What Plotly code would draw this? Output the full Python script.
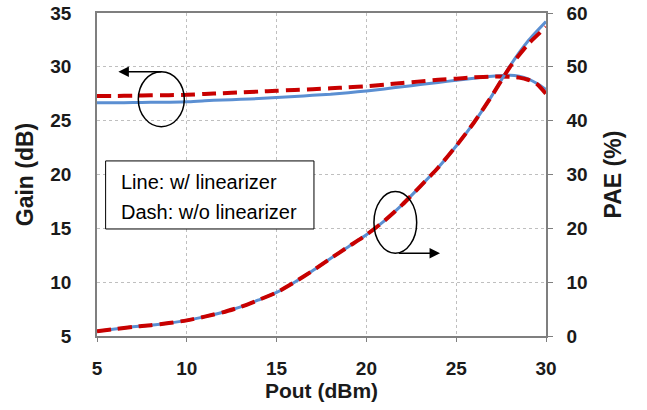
import plotly.graph_objects as go

# ---------------- data ----------------
pout_gain = [5, 6, 7, 8, 9, 10, 11, 12, 13, 14, 15, 16, 17, 18, 19, 20, 21, 22, 23, 24, 25, 26, 27, 28, 28.5, 29, 29.5, 30]
gain_lin = [26.67, 26.67, 26.68, 26.70, 26.72, 26.75, 26.85, 26.92, 26.98, 27.05, 27.15, 27.25, 27.35, 27.45,
            27.60, 27.76, 27.95, 28.15, 28.35, 28.55, 28.75, 28.95, 29.12, 29.22, 29.12, 28.88, 28.45, 27.90]
gain_nolin = [27.30, 27.30, 27.32, 27.35, 27.37, 27.40, 27.48, 27.55, 27.62, 27.70, 27.78, 27.85, 27.92, 28.00,
              28.10, 28.20, 28.35, 28.50, 28.65, 28.80, 28.90, 29.02, 29.10, 29.08, 29.00, 28.80, 28.40, 27.50]

pout_pae = [5, 6, 7, 8, 9, 10, 11, 12, 13, 14, 15, 16, 17, 18, 19, 20, 21, 22, 23, 24, 25, 26, 27, 28, 29, 30]
pae_lin = [0.9, 1.3, 1.7, 2.0, 2.4, 2.9, 3.6, 4.4, 5.4, 6.7, 8.1, 10.0, 12.1, 14.4, 16.6, 18.8, 21.4, 24.4,
           27.8, 31.3, 35.3, 39.7, 44.7, 50.2, 54.8, 58.4]
pae_nolin = [0.9, 1.3, 1.7, 2.0, 2.4, 2.9, 3.6, 4.4, 5.4, 6.7, 8.1, 10.0, 12.1, 14.4, 16.6, 18.8, 21.4, 24.4,
             27.8, 31.3, 35.3, 39.7, 44.7, 50.0, 54.2, 57.4]

x_ticks = [5, 10, 15, 20, 25, 30]
gain_ticks = [5, 10, 15, 20, 25, 30, 35]
pae_ticks = [0, 10, 20, 30, 40, 50, 60]

legend_lines = ["Line: w/ linearizer", "Dash: w/o linearizer"]

BLUE = "#5B8FD2"
RED = "#C80000"
FONT = "Liberation Sans, Arial, sans-serif"

fig = go.Figure()

fig.add_trace(go.Scatter(x=pout_gain, y=gain_lin, mode="lines", yaxis="y",
                         line=dict(color=BLUE, width=3, shape="spline", smoothing=0.6), showlegend=False))
fig.add_trace(go.Scatter(x=pout_pae, y=pae_lin, mode="lines", yaxis="y2",
                         line=dict(color=BLUE, width=3, shape="spline", smoothing=0.6), showlegend=False))
fig.add_trace(go.Scatter(x=pout_gain, y=gain_nolin, mode="lines", yaxis="y",
                         line=dict(color=RED, width=4, dash="14px,7px", shape="spline", smoothing=0.6),
                         showlegend=False))
fig.add_trace(go.Scatter(x=pout_pae, y=pae_nolin, mode="lines", yaxis="y2",
                         line=dict(color=RED, width=4, dash="14px,7px", shape="spline", smoothing=0.6),
                         showlegend=False))

TICKFONT = dict(family=FONT, size=19, color="#1a1a1a", weight="bold")
axis_common = dict(showgrid=True, gridcolor="#BFBFBF", griddash="dot", gridwidth=1,
                   zeroline=False, showline=True, linecolor="#7F7F7F", linewidth=1.5,
                   tickfont=TICKFONT, automargin=False, ticklabeloverflow="allow")

fig.update_layout(
    width=647, height=410,
    margin=dict(l=97, r=101, t=13, b=74, autoexpand=False),
    paper_bgcolor="white", plot_bgcolor="white",
    font=dict(family=FONT, color="#1a1a1a"),
    xaxis=dict(range=[5, 30], tickvals=x_ticks, ticks="outside", ticklen=4, tickcolor="#7F7F7F",
               ticklabelstandoff=10, mirror=True,
               title=dict(text="Pout (dBm)", font=dict(family=FONT, size=21, weight="bold"), standoff=4),
               **axis_common),
    yaxis=dict(range=[5, 35], tickvals=gain_ticks, ticks="", ticklabelstandoff=20,
               title=dict(text="Gain (dB)", font=dict(family=FONT, size=23, weight="bold"), standoff=10),
               **axis_common),
    yaxis2=dict(range=[0, 60], tickvals=pae_ticks, overlaying="y", side="right",
                ticks="outside", ticklen=5, tickcolor="#7F7F7F", ticklabelstandoff=10,
                title=dict(text="PAE (%)", font=dict(family=FONT, size=23, weight="bold"), standoff=18),
                **{**axis_common, "showgrid": False}),
)

# ellipses and legend box (in data coordinates of x / gain axis)
fig.add_shape(type="circle", xref="x", yref="y", x0=7.30, x1=9.86, y0=24.44, y1=29.55,
              line=dict(color="black", width=1.5))
fig.add_shape(type="circle", xref="x", yref="y", x0=20.42, x1=22.80, y0=12.69, y1=18.41,
              line=dict(color="black", width=1.5))
fig.add_shape(type="rect", xref="x", yref="y", x0=5.48, x1=17.08, y0=14.94, y1=21.26,
              line=dict(color="black", width=1), fillcolor="white", layer="above")

# arrows
fig.add_annotation(x=6.19, y=29.55, ax=8.67, ay=29.55, xref="x", yref="y", axref="x", ayref="y",
                   text="", showarrow=True, arrowhead=2, arrowsize=1.4, arrowwidth=1.5, arrowcolor="black")
fig.add_annotation(x=24.10, y=12.69, ax=21.72, ay=12.69, xref="x", yref="y", axref="x", ayref="y",
                   text="", showarrow=True, arrowhead=2, arrowsize=1.4, arrowwidth=1.5, arrowcolor="black")

# legend text
for txt, yv in zip(legend_lines, [19.31, 16.52]):
    fig.add_annotation(x=6.22, y=yv, xref="x", yref="y", text=txt, showarrow=False,
                       xanchor="left", yanchor="middle",
                       font=dict(family=FONT, size=20, color="black"))

# remove the default 8px page margin so the figure fills the window exactly
fig.write_html("out.html", config={"displayModeBar": False},
               post_script="document.body.style.margin='0';")
